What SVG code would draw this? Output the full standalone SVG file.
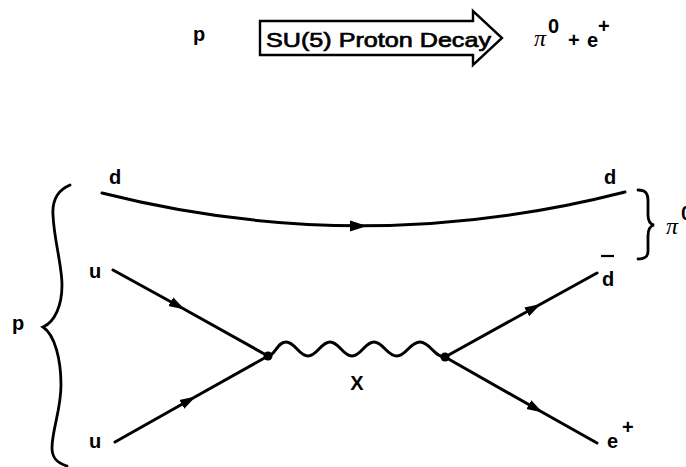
<svg xmlns="http://www.w3.org/2000/svg" width="686" height="467" viewBox="0 0 686 467">
<style>
.ln{fill:none;stroke:#000;stroke-width:3;stroke-linecap:round;stroke-linejoin:round}
.br{fill:none;stroke:#000;stroke-width:2.8;stroke-linecap:round}
.lb{font-family:"Liberation Sans",Arial,sans-serif;font-weight:bold;font-size:20px;fill:#000}
.pi{font-family:"Liberation Serif","Times New Roman",serif;font-style:italic;font-size:24px;fill:#000}
</style>
<defs>
<marker id="ah" viewBox="0 0 16 12" refX="14" refY="6" markerWidth="16" markerHeight="12" markerUnits="userSpaceOnUse" orient="auto">
<path d="M0,1 L16,6 L0,11 Z" fill="#000"/>
</marker>
</defs>
<rect width="686" height="467" fill="#fff"/>

<g id="header">
<text class="lb" x="193" y="41" font-size="21">p</text>
<path id="decay-arrow" d="M260,21 L473,21 L473,11 L502,38 L473,65 L473,55 L260,55 Z" fill="#fff" stroke="#000" stroke-width="2.4" stroke-linejoin="miter"/>
<text x="266" y="47" font-family="Liberation Sans, Arial, sans-serif" font-size="21" stroke="#000" stroke-width="0.7" textLength="225" lengthAdjust="spacingAndGlyphs">SU(5) Proton Decay</text>
<text class="pi" x="534" y="46">π</text>
<text class="lb" x="548" y="33" font-size="16">0</text>
<text class="lb" x="568" y="47">+</text>
<text class="lb" x="587" y="47">e</text>
<text class="lb" x="598" y="33" font-size="16">+</text>
</g>

<g id="connectors">
<path class="ln" d="M102,193 Q363,259 625,192"/>
<path d="M350,220.5 L367,226 L350,231.5 Z" fill="#000"/>
<path class="ln" d="M113,270 L183,308.5 L268,356" marker-mid="url(#ah)"/>
<path class="ln" d="M115,442 L194,397.5 L268,356" marker-mid="url(#ah)"/>
<path class="ln" d="M445,357 L539,305 L597,273" marker-mid="url(#ah)"/>
<path class="ln" d="M445,357 L541,411.5 L597,443" marker-mid="url(#ah)"/>
<path class="ln" d="M268,356 C275,356 277,342 286,342 C295,342 299,356 308,356 C317,356 321,342 330,342 C339,342 343,356 352,356 C361,356 365,342 374,342 C383,342 387,356 397,356 C406,356 410,342 420,342 C430,342 434,357 445,357"/>
</g>

<g id="vertex-left"><circle cx="268" cy="356" r="4.5" fill="#000"/></g>
<g id="vertex-right"><circle cx="445" cy="357" r="4.5" fill="#000"/></g>

<g id="proton">
<path class="br" d="M70,185 C58,190 52,200 53,215 C54,240 62,265 62,285 C62,305 55,322 43,327 C55,335 61,360 61,385 C61,410 52,430 52,448 C52,458 57,463 67,466"/>
<text class="lb" x="12" y="330" font-size="21">p</text>
</g>

<g id="quark-d-in"><text class="lb" x="109" y="184">d</text></g>
<g id="quark-u1"><text class="lb" x="89" y="278" font-size="21">u</text></g>
<g id="quark-u2"><text class="lb" x="89" y="448" font-size="21">u</text></g>
<g id="quark-d-out"><text class="lb" x="604" y="184">d</text></g>
<g id="antiquark-dbar">
<text class="lb" x="602" y="286">d</text>
<line x1="601" y1="256" x2="614" y2="256" stroke="#000" stroke-width="2.2"/>
</g>
<g id="positron"><text class="lb" x="607" y="448" font-size="21">e</text><text class="lb" x="622" y="434" font-size="16">+</text></g>
<g id="boson-x"><text class="lb" x="357" y="390" text-anchor="middle" font-size="21">X</text></g>

<g id="pion">
<path class="br" d="M638,190 C646,190 648,194 648,200 L648,215 C648,221 650,224 654,225 C650,226 648,229 648,236 L648,251 C648,256 646,259 638,259"/>
<text class="pi" x="666" y="234">π</text>
<text class="lb" x="681" y="220" font-size="16">0</text>
</g>
</svg>
